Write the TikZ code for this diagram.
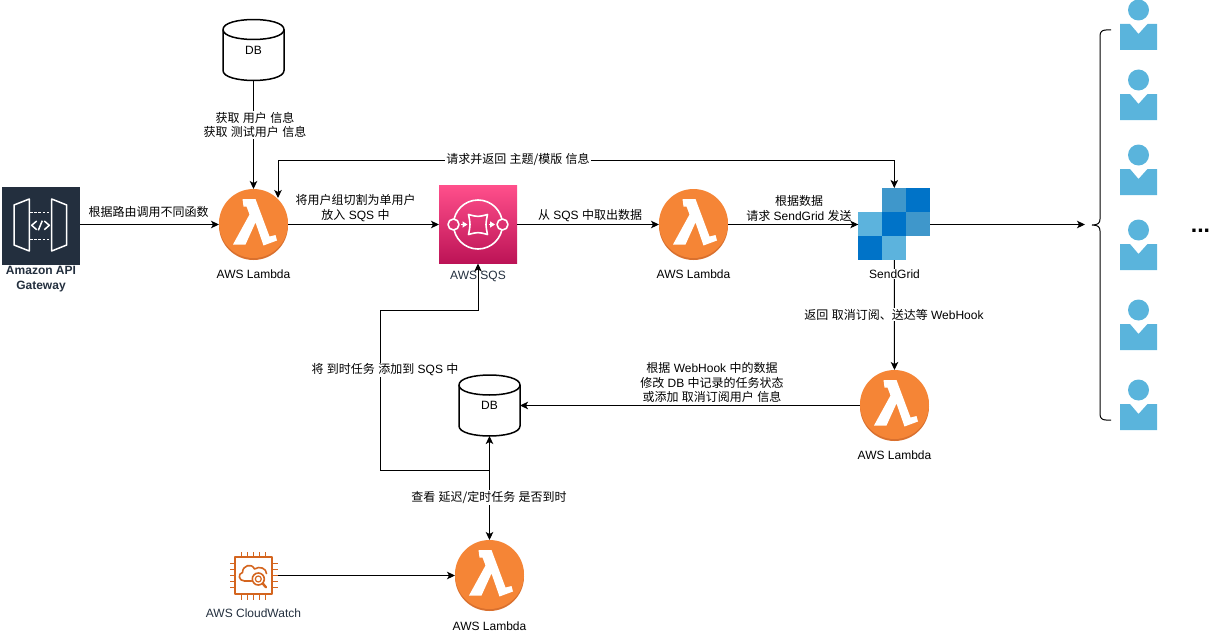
\documentclass[tikz,border=0pt]{standalone}
\usepackage{fontspec}
\setmainfont{Liberation Sans}
\newfontfamily\cjk{Noto Sans CJK SC}
\usetikzlibrary{arrows.meta,calc}
\newcommand\zh[1]{{\cjk #1}}
\definecolor{awsdark}{HTML}{232F3E}
\definecolor{lamorange}{HTML}{F58536}
\definecolor{lamrim}{HTML}{D9702E}
\definecolor{userblue}{HTML}{5AB4DC}
\definecolor{sgdark}{HTML}{0073C8}
\definecolor{sgmid}{HTML}{3F97CB}
\definecolor{sglight}{HTML}{5CB3DD}
\definecolor{cworange}{HTML}{D4651F}
\definecolor{sqstop}{HTML}{FF4F8B}
\definecolor{sqsbot}{HTML}{BC1356}
\definecolor{sqsmid}{HTML}{DD3170}
\tikzset{
  lbl/.style={font=\fontsize{12}{14.7}\selectfont,align=center,inner sep=1pt,text=black},
  onlineLbl/.style={lbl,fill=white},
  conn/.style={line width=1pt,draw=black,-{Stealth[length=8pt,width=7.5pt,inset=2pt]}},
  bothconn/.style={line width=1pt,draw=black,{Stealth[length=8pt,width=7.5pt,inset=2pt]}-{Stealth[length=8pt,width=7.5pt,inset=2pt]}},
  iconbox/.style={inner sep=0,outer sep=0,minimum width=#1,minimum height=#1,rectangle},
  lamnode/.style={inner sep=0,outer sep=0,minimum width=69,minimum height=71,rectangle},
  dbnode/.style={inner sep=0,outer sep=0,minimum width=61,minimum height=61,rectangle,font=\fontsize{12}{14}\selectfont},
  lambdapic/.pic={
    \fill[lamrim] (0,1) circle[radius=34.5];
    \fill[lamorange] (0,-1) circle[radius=34.5];
    \fill[white] (-11,-25.5) -- (2,-25.5) -- (16,12) -- (22,10.5) -- (23.5,16) -- (10,21) -- (2,-2) -- (-8,20) -- (-20.5,20) -- (-4,-10) -- (-7,-18) -- (-10,-18) -- cycle;
  },
  userpic/.pic={
    \fill[userblue] (0,-14) circle[radius=10.5];
    \fill[userblue] (-18.5,0) -- (-8.5,0) -- (0,10) -- (9,0) -- (18.5,0) -- (18.5,26) -- (-18.5,26) -- cycle;
  },
}
\newcommand\lambdaicon[3]{\node[lamnode] (#1) at (#2,#3) {}; \pic at (#1) {lambdapic};}
\newcommand\dbcyl[3]{%
  \node[dbnode] (#1) at (#2,#3) {DB};
  \begin{scope}[shift={(#1.center)},line width=1.5pt]
    \draw (-30.5,-20.5) .. controls (-30.5,-33.83) and (30.5,-33.83) .. (30.5,-20.5) -- (30.5,20.5) .. controls (30.5,33.83) and (-30.5,33.83) .. (-30.5,20.5) -- cycle;
    \draw (-30.5,-20.5) .. controls (-30.5,-7.17) and (30.5,-7.17) .. (30.5,-20.5);
  \end{scope}}
\begin{document}
\begin{tikzpicture}[x=1pt,y=-1pt]
\useasboundingbox (0,0) rectangle (1221,634);
% API Gateway
\node[iconbox=78,fill=awsdark] (api) at (41,226) {};
\begin{scope}[white,line width=1.5pt,line join=round]
  \draw (14,205) -- (29.3,199) -- (29.3,251) -- (14,245) -- cycle;
  \draw (51.7,199) -- (66.7,205) -- (66.7,245) -- (51.7,251) -- cycle;
  \draw[dash pattern=on 2.6pt off 1.6pt] (30,212.3) -- (51,212.3);
  \draw[dash pattern=on 2.6pt off 1.6pt] (30,239.3) -- (51,239.3);
  \draw (36.7,221) -- (31.7,225.3) -- (36.7,229.7);
  \draw (42.3,220.7) -- (38.3,230.3);
  \draw (44.3,221) -- (49.3,225.3) -- (44.3,229.7);
\end{scope}
\node[lbl,text=awsdark,font=\fontsize{12}{14.7}\selectfont\bfseries] (apilbl) at (41,279) {Amazon API\\Gateway};
% Lambdas
\lambdaicon{la}{253.5}{224.5}
\lambdaicon{lb}{693.5}{224.5}
\lambdaicon{lc}{894.5}{405.5}
\lambdaicon{ld}{489.5}{575.5}
% SQS
\node[iconbox=78,top color=sqstop,bottom color=sqsbot] (sqs) at (478,224.5) {};
\begin{scope}[shift={(sqs.center)},white,line width=1.6pt,line join=round]
  \draw (0,0) circle[radius=24.5];
  \draw[fill=sqsmid] (-24.5,0) circle[radius=5.5];
  \draw[fill=sqsmid] (24.5,0) circle[radius=5.5];
  \draw (-9.5,-10) .. controls (0,-7.5) .. (9.5,-10) .. controls (7.5,0) .. (9.5,10) .. controls (0,7.5) .. (-9.5,10) .. controls (-7.5,0) .. (-9.5,-10) -- cycle;
  \draw[-{Stealth[length=5pt,width=6pt,inset=0pt]}] (-17,0) -- (-10.5,0);
  \draw[-{Stealth[length=5pt,width=6pt,inset=0pt]}] (10.5,0) -- (17,0);
\end{scope}
% SendGrid
\node[iconbox=72] (sg) at (894.3,224) {};
\fill[sgmid] (882.3,188) rectangle (906.3,212);
\fill[sgdark] (906.3,188) rectangle (930.3,212);
\fill[sglight] (858.3,212) rectangle (882.3,236);
\fill[sgdark] (882.3,212) rectangle (906.3,236);
\fill[sgmid] (906.3,212) rectangle (930.3,236);
\fill[sgdark] (858.3,236) rectangle (882.3,260);
\fill[sglight] (882.3,236) rectangle (906.3,260);
% CloudWatch
\node[iconbox=49] (cw) at (253.5,575.5) {};
\begin{scope}[shift={(cw.center)},cworange,line width=1.6pt,line join=round]
  \draw (-18.5,-18.5) rectangle (18.5,18.5);
  \foreach \p in {-12,-6,0,6,12}{
    \draw (\p,-18.5) -- (\p,-24);
    \draw (\p,18.5) -- (\p,24);
    \draw (-18.5,\p) -- (-24,\p);
    \draw (18.5,\p) -- (24,\p);
  }
  \draw[line cap=round] (-2,5.5) -- (-9,5.5) .. controls (-15,5.5) and (-16,-2) .. (-11,-3) .. controls (-11,-10) and (-2,-13) .. (1,-6.5) .. controls (6,-10) and (13,-7) .. (13,-2);
  \draw (4.8,3.5) circle[radius=6];
  \draw[line width=1.2pt] (4.8,3.5) circle[radius=3];
  \draw[line width=2.4pt,line cap=round] (9.2,8) -- (12.5,11.8);
\end{scope}
% DBs
\dbcyl{dba}{253.5}{50}
\dbcyl{dbb}{489.5}{405.5}
% Users
\foreach \n/\y in {ua/24,ub/94,uc/169,ud/244,ue/324,uf/404}{
  \coordinate (\n) at (1138.5,\y);
  \pic at (\n) {userpic};
}
% Coordinates for free ends
\coordinate (ltop) at (278,198);
\coordinate (toprail) at (0,160);
\coordinate (bracein) at (1085,224.5);
\coordinate (joinb) at (489.5,470);
\coordinate (railx) at (380,0);
\coordinate (raily) at (0,310);
% Connectors
\draw[conn] (dba.south) -- (la.north);
\draw[conn] (api.east|-la.west) -- (la.west);
\draw[conn] (la.east) -- (sqs.west);
\draw[conn] (sqs.east) -- (lb.west);
\draw[conn] (lb.east) -- (sg.west|-lb.east);
\draw[conn] (sg.east|-lb.east) -- (bracein);
\draw[bothconn] (ltop) -- (ltop|-toprail) -- (sg.north|-toprail) -- (sg.north);
\draw[conn] (sg.south) -- (lc.north);
\draw[conn] (lc.west) -- (dbb.east|-lc.west);
\draw[bothconn] (ld.north) -- (dbb.south);
\draw[conn] (joinb) -- (railx|-joinb) -- (railx|-raily) -- (sqs.south|-raily) -- (sqs.south);
\draw[conn] (cw.east) -- (ld.west);
% Brace
\draw[line width=1pt] (1111,30) -- (1106,30) .. controls (1102,30) and (1100,32) .. (1100,36) -- (1100,219) .. controls (1100,223) and (1098,225) .. (1092,225) .. controls (1098,225) and (1100,227) .. (1100,231) -- (1100,414) .. controls (1100,418) and (1102,420) .. (1106,420) -- (1111,420);
% Labels
\node[onlineLbl] (t1) at (255,125) {\zh{获取} \zh{用户} \zh{信息}\\\zh{获取} \zh{测试用户} \zh{信息}};
\node[onlineLbl] (t2) at (518,159.5) {\zh{请求并返回} \zh{主题/模版} \zh{信息}};
\node[lbl] (t3) at (148.5,212) {\zh{根据路由调用不同函数}};
\node[lbl] (t4) at (355.5,208) {\zh{将用户组切割为单用户}\\\zh{放入} SQS \zh{中}};
\node[lbl] (t5) at (590,215.5) {\zh{从} SQS \zh{中取出数据}};
\node[lbl] (t6) at (799,208.5) {\zh{根据数据}\\\zh{请求} SendGrid \zh{发送}};
\node[onlineLbl] (t7) at (894,314.5) {\zh{返回} \zh{取消订阅、送达等} WebHook};
\node[lbl] (t8) at (712,382.5) {\zh{根据} WebHook \zh{中的数据}\\\zh{修改} DB \zh{中记录的任务状态}\\\zh{或添加} \zh{取消订阅用户} \zh{信息}};
\node[onlineLbl] (t9) at (385,370) {\zh{将} \zh{到时任务} \zh{添加到} SQS \zh{中}};
\node[onlineLbl] (t10) at (489,497.5) {\zh{查看} \zh{延迟/定时任务} \zh{是否到时}};
\node[lbl] (n1) at (253.5,274) {AWS Lambda};
\node[lbl] (n2) at (693.5,274) {AWS Lambda};
\node[lbl] (n3) at (894.5,455) {AWS Lambda};
\node[lbl] (n4) at (489.5,626) {AWS Lambda};
\node[lbl,text=awsdark] (n5) at (478,276.5) {AWS SQS};
\node[onlineLbl] (n6) at (894.5,274) {SendGrid};
\node[lbl,text=awsdark] (n7) at (253.5,613.5) {AWS CloudWatch};
\node[anchor=base,inner sep=0,font=\fontsize{23}{23}\selectfont\bfseries] (dots) at (1200.5,232) {...};
\end{tikzpicture}
\end{document}
